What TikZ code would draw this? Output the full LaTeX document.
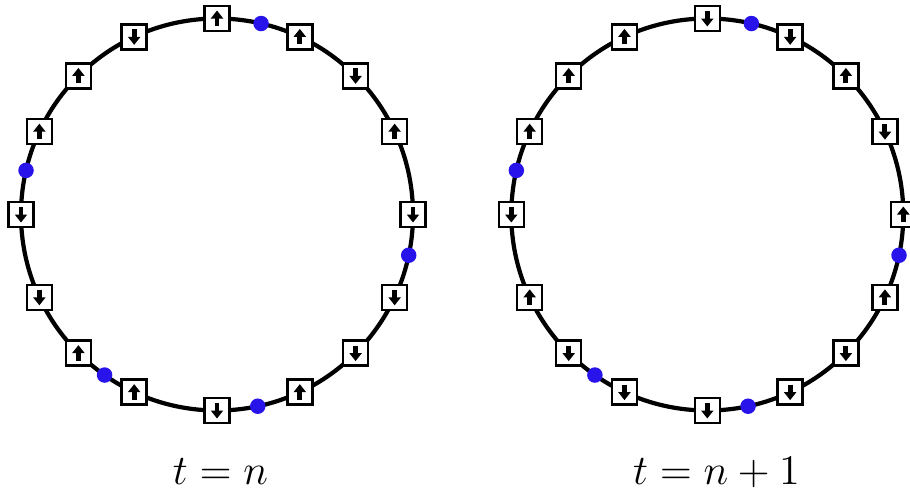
\documentclass[tikz,border=0pt]{standalone}
\usetikzlibrary{arrows.meta}
\definecolor{sitedot}{RGB}{40,20,235}

\begin{document}
\begin{tikzpicture}[
        ring/.style={circle, draw, line width=1.2pt, minimum size=3.92cm, inner sep=0pt, outer sep=0pt},
        spinbox/.style={rectangle, draw, fill=white, line width=0.7pt, minimum size=0.25cm, inner sep=0pt},
        spinup/.style={spinbox, path picture={\draw[line width=1.4pt, -{Triangle[width=1.2mm, length=0.8mm]}] ([yshift=-0.075cm]path picture bounding box.center) -- ([yshift=0.08cm]path picture bounding box.center);}},
        spindown/.style={spinbox, path picture={\draw[line width=1.4pt, -{Triangle[width=1.2mm, length=0.8mm]}] ([yshift=0.075cm]path picture bounding box.center) -- ([yshift=-0.08cm]path picture bounding box.center);}},
        hole/.style={circle, fill=sitedot, minimum size=0.155cm, inner sep=0pt},
        timelabel/.style={font=\fontsize{11.8}{14}\selectfont, anchor=base}
    ]
        \useasboundingbox (0,0) rectangle (9.10,4.93);

        % Rings
        \node[ring] (ringL) at (2.17,2.785) {};
        \node[ring] (ringR) at (7.073,2.785) {};

        % Spins at t = n
        \foreach \a/\s [count=\i] in {90/up, 65/up, 45/down, 25/up, 0/down, 335/down, 315/down, 295/up,
                                      270/down, 245/up, 225/up, 205/down, 180/down, 155/up, 135/up, 115/down}
            \node[spin\s] (L\i) at (ringL.\a) {};

        % Spins at t = n+1
        \foreach \a/\s [count=\i] in {90/down, 65/down, 45/up, 25/down, 0/up, 335/up, 315/down, 295/down,
                                      270/down, 245/down, 225/down, 205/up, 180/down, 155/up, 135/up, 115/up}
            \node[spin\s] (R\i) at (ringR.\a) {};

        % Holes
        \foreach \a [count=\i] in {77.5, 348, 282.5, 235.5, 167} {
            \node[hole] (Lh\i) at (ringL.\a) {};
            \node[hole] (Rh\i) at (ringR.\a) {};
        }

        % Time labels
        \node[timelabel] (tL) at (2.205,0.09) {$t=n$};
        \node[timelabel] (tR) at (7.165,0.09) {$t=n+1$};
    \end{tikzpicture}
\end{document}
